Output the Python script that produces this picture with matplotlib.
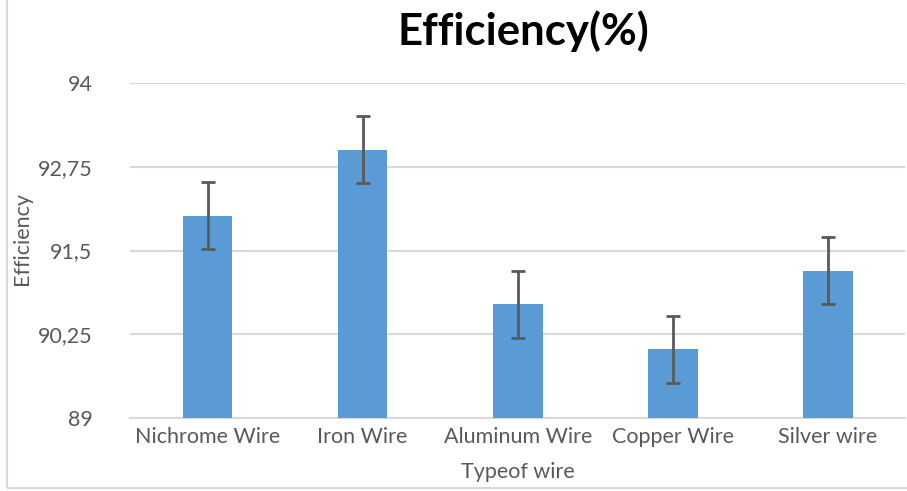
import matplotlib
matplotlib.use("Agg")
import matplotlib.pyplot as plt
from matplotlib.patches import Rectangle

categories = ["Nichrome Wire", "Iron Wire", "Aluminum Wire", "Copper Wire", "Silver wire"]
values = [92.02, 93.0, 90.70, 90.03, 91.20]
errors = [0.5, 0.5, 0.5, 0.5, 0.5]
yticks = [89, 90.25, 91.5, 92.75, 94]
ytick_labels = ["89", "90,25", "91,5", "92,75", "94"]

plt.rcParams['font.family'] = ['Lato', 'DejaVu Sans']

fig = plt.figure(figsize=(9.07, 4.91), dpi=100)
ax = fig.add_axes([0.1433, 0.148, 0.855, 0.6836])

x = list(range(len(categories)))
ax.bar(x, values, width=0.32, color="#5B9BD5", zorder=3,
       yerr=errors, error_kw=dict(ecolor="#595959", elinewidth=2.0, capsize=4.8, capthick=2.0, zorder=4))

ax.set_ylim(89, 94)
ax.set_xlim(-0.5, 4.5)
ax.set_yticks(yticks)
ax.set_yticklabels(ytick_labels)
ax.set_xticks(x)
ax.set_xticklabels(categories)
ax.yaxis.grid(True, color="#D9D9D9", linewidth=1.5, zorder=0)
ax.tick_params(axis='y', length=0, pad=27, labelsize=15.5, labelcolor="#595959")
ax.tick_params(axis='x', length=0, pad=6, labelsize=15.5, labelcolor="#595959")
for s in ["top", "right", "left"]:
    ax.spines[s].set_visible(False)
ax.spines["bottom"].set_color("#D9D9D9")
ax.spines["bottom"].set_linewidth(1.5)

ax.set_xlabel("Typeof wire", fontsize=15.5, color="#595959", labelpad=11)

fig.text(22 / 907, 0.514, "Efficiency", fontsize=15.5, color="#595959",
         rotation=90, ha="center", va="center")

fig.text(0.577, 1 - 31 / 491, "Efficiency(%)", fontsize=31.5, fontweight="bold", color="black",
         ha="center", va="center")

fig.patches.append(Rectangle((0.008, 0.006), 1.2, 1.2, transform=fig.transFigure,
                             fill=False, edgecolor="#D9D9D9", linewidth=1.5))

fig.savefig("out.png", dpi=100)
